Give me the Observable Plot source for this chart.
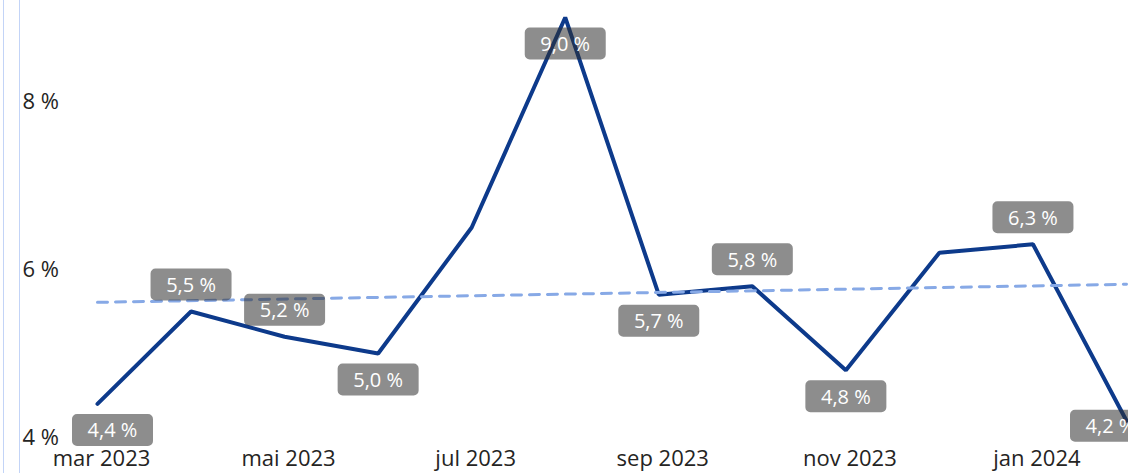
<!DOCTYPE html>
<html><head><meta charset="utf-8">
<script src="https://cdn.jsdelivr.net/npm/d3@7"></script>
<script src="https://cdn.jsdelivr.net/npm/@observablehq/plot@0.6"></script>
<style>
html,body{margin:0;padding:0;background:#fff;overflow:hidden}
#wrap{position:relative;width:1128px;height:473px}
.vline{position:absolute;top:0;height:473px;width:1px;background:#c3d4f7}
#chart svg{display:block}
</style></head><body>
<div id="wrap"><div class="vline" style="left:3px"></div><div class="vline" style="left:19px"></div><div id="chart"></div></div>
<script>
const months = ["mar 2023","apr 2023","mai 2023","jun 2023","jul 2023","aug 2023","sep 2023","okt 2023","nov 2023","des 2023","jan 2024","feb 2024"];
const values = [4.4, 5.5, 5.2, 5.0, 6.5, 9.0, 5.7, 5.8, 4.8, 6.2, 6.3, 4.2];
const yTicks = [4, 6, 8];
const xTickMonths = ["mar 2023","mai 2023","jul 2023","sep 2023","nov 2023","jan 2024"];
const labelAbove = ["apr 2023","mai 2023","okt 2023","jan 2024"];
const labelHidden = ["jul 2023","des 2023"];

const data = months.map((m, i) => ({i, month: m, value: values[i]}));
const fmt = v => v.toFixed(1).replace(".", ",") + " %";
const last = data.length - 1;

const box = {draw(ctx) {
  const w = 81, h = 32, r = 5, x0 = -w/2, y0 = -h/2;
  ctx.moveTo(x0 + r, y0);
  ctx.lineTo(x0 + w - r, y0); ctx.arcTo(x0 + w, y0, x0 + w, y0 + r, r);
  ctx.lineTo(x0 + w, y0 + h - r); ctx.arcTo(x0 + w, y0 + h, x0 + w - r, y0 + h, r);
  ctx.lineTo(x0 + r, y0 + h); ctx.arcTo(x0, y0 + h, x0, y0 + h - r, r);
  ctx.lineTo(x0, y0 + r); ctx.arcTo(x0, y0, x0 + r, y0, r);
  ctx.closePath();
}};

const FONT = "'Open Sans', 'Noto Sans', sans-serif";
const labelRows = data.filter(d => !labelHidden.includes(d.month));
const groups = new Map();
for (const d of labelRows) {
  let dy = labelAbove.includes(d.month) ? -27 : 26;
  let dx = 0;
  if (d.i === 0) dx = 15;
  if (d.i === last) { dx = -16; dy = 5; }
  const k = dx + "," + dy;
  if (!groups.has(k)) groups.set(k, {dx, dy, rows: []});
  groups.get(k).rows.push(d);
}
const labelMarks = [];
for (const g of groups.values()) {
  labelMarks.push(Plot.dot(g.rows, {x: "i", y: "value", symbol: box, r: 10, fill: "#303030", fillOpacity: 0.55, stroke: null, dx: g.dx, dy: g.dy}));
}
for (const g of groups.values()) {
  labelMarks.push(Plot.text(g.rows, {x: "i", y: "value", text: d => fmt(d.value), fill: "#ffffff", fontSize: 20, dx: g.dx, dy: g.dy + 1}));
}

const chart = Plot.plot({
  width: 1128, height: 473,
  marginLeft: 97, marginRight: 2, marginTop: 0, marginBottom: 28,
  style: {fontFamily: FONT, fontSize: "22px", color: "#252423", background: "transparent", overflow: "visible"},
  x: {type: "linear", domain: [0, last]},
  y: {domain: [3.905, 9.202]},
  marks: [
    Plot.axisY({ticks: yTicks, tickSize: 0, tickPadding: 0, textAnchor: "start", dx: -75, tickFormat: d => d + " %", label: null, fontSize: 22}),
    Plot.axisX({ticks: xTickMonths.map(m => months.indexOf(m)), tickSize: 0, tickPadding: 5, dx: 4, tickFormat: i => months[i], label: null, fontSize: 22}),
    Plot.line(data, {x: "i", y: "value", stroke: "#0d3a8b", strokeWidth: 4, strokeLinejoin: "miter", strokeLinecap: "round"}),
    Plot.linearRegressionY(data, {x: "i", y: "value", ci: 0, stroke: "#87a9e6", strokeWidth: 3, strokeDasharray: "10,8"}),
    ...labelMarks
  ]
});
document.getElementById("chart").appendChild(chart);
</script>
</body></html>
